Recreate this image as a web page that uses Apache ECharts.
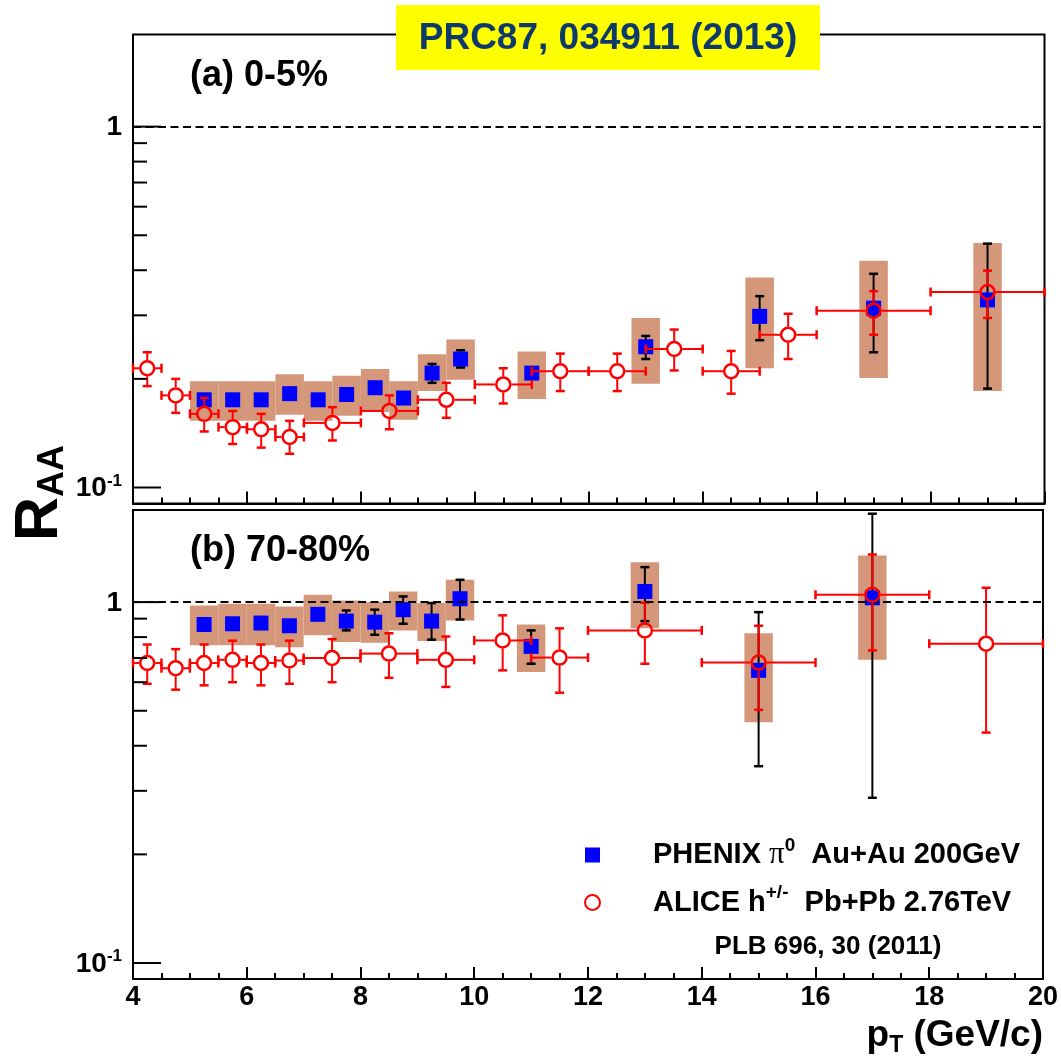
<!DOCTYPE html>
<html><head><meta charset="utf-8">
<script src="https://cdn.jsdelivr.net/npm/echarts@6/dist/echarts.min.js"></script>
<style>html,body{margin:0;padding:0;background:#fff}#c{width:1061px;height:1059px}</style>
</head><body><div id="c"></div>
<script>
// ---------- DATA ----------
// Panel (a) 0-5% : ALICE h+/- Pb+Pb 2.76 TeV
const aliceA_pt  = [4.25, 4.75, 5.25, 5.75, 6.25, 6.75, 7.5, 8.5, 9.5, 10.5, 11.5, 12.5, 13.5, 14.5, 15.5, 17, 19];
const aliceA_dpt = [0.25, 0.25, 0.25, 0.25, 0.25, 0.25, 0.5, 0.5, 0.5, 0.5, 0.5, 0.5, 0.5, 0.5, 0.5, 1, 1];
const aliceA_raa = [0.214, 0.180, 0.160, 0.147, 0.145, 0.138, 0.151, 0.163, 0.175, 0.193, 0.210, 0.210, 0.242, 0.210, 0.265, 0.309, 0.348];
const aliceA_hi  = [0.237, 0.200, 0.177, 0.163, 0.160, 0.153, 0.167, 0.180, 0.195, 0.214, 0.235, 0.235, 0.274, 0.239, 0.303, 0.350, 0.399];
const aliceA_lo  = [0.191, 0.161, 0.143, 0.132, 0.129, 0.124, 0.135, 0.145, 0.156, 0.171, 0.185, 0.185, 0.211, 0.182, 0.227, 0.265, 0.295];

// Panel (a) 0-5% : PHENIX pi0 Au+Au 200 GeV
const phenixA_pt     = [5.25, 5.75, 6.25, 6.75, 7.25, 7.75, 8.25, 8.75, 9.25, 9.75, 11, 13, 15, 17, 19];
const phenixA_raa    = [0.175, 0.175, 0.175, 0.182, 0.175, 0.181, 0.189, 0.177, 0.2075, 0.227, 0.2075, 0.2455, 0.298, 0.314, 0.331];
const phenixA_statHi = [0.180, 0.180, 0.180, 0.187, 0.180, 0.186, 0.195, 0.182, 0.220, 0.240, 0.214, 0.263, 0.339, 0.391, 0.474];
const phenixA_statLo = [0.170, 0.170, 0.170, 0.177, 0.170, 0.176, 0.184, 0.172, 0.195, 0.215, 0.201, 0.227, 0.256, 0.237, 0.188];
const phenixA_sysHi  = [0.197, 0.197, 0.197, 0.206, 0.197, 0.204, 0.213, 0.197, 0.234, 0.257, 0.238, 0.295, 0.382, 0.425, 0.476];
const phenixA_sysLo  = [0.153, 0.153, 0.153, 0.159, 0.153, 0.158, 0.162, 0.154, 0.185, 0.199, 0.176, 0.194, 0.214, 0.201, 0.185];

// Panel (b) 70-80% : ALICE
const aliceB_pt  = [4.25, 4.75, 5.25, 5.75, 6.25, 6.75, 7.5, 8.5, 9.5, 10.5, 11.5, 13, 15, 17, 19];
const aliceB_dpt = [0.25, 0.25, 0.25, 0.25, 0.25, 0.25, 0.5, 0.5, 0.5, 0.5, 0.5, 1, 1, 1, 1];
const aliceB_raa = [0.678, 0.656, 0.678, 0.692, 0.678, 0.689, 0.700, 0.720, 0.692, 0.783, 0.702, 0.835, 0.680, 1.048, 0.767];
const aliceB_hi  = [0.763, 0.741, 0.763, 0.782, 0.763, 0.782, 0.790, 0.820, 0.803, 0.919, 0.846, 0.996, 0.860, 1.355, 1.096];
const aliceB_lo  = [0.594, 0.572, 0.588, 0.600, 0.588, 0.594, 0.600, 0.617, 0.582, 0.647, 0.561, 0.675, 0.503, 0.735, 0.435];

// Panel (b) 70-80% : PHENIX
const phenixB_pt     = [5.25, 5.75, 6.25, 6.75, 7.25, 7.75, 8.25, 8.75, 9.25, 9.75, 11, 13, 15, 17];
const phenixB_raa    = [0.867, 0.871, 0.875, 0.860, 0.925, 0.886, 0.880, 0.953, 0.886, 1.022, 0.754, 1.070, 0.647, 1.028];
const phenixB_statHi = [0.890, 0.890, 0.900, 0.880, 0.950, 0.948, 0.953, 1.037, 0.994, 1.153, 0.835, 1.250, 0.938, 1.758];
const phenixB_statLo = [0.845, 0.850, 0.850, 0.840, 0.900, 0.835, 0.812, 0.871, 0.787, 0.895, 0.675, 0.886, 0.351, 0.287];
const phenixB_sysHi  = [0.979, 0.990, 0.990, 0.973, 1.048, 1.011, 1.000, 1.070, 0.994, 1.153, 0.867, 1.290, 0.820, 1.346];
const phenixB_sysLo  = [0.759, 0.759, 0.759, 0.750, 0.809, 0.775, 0.772, 0.835, 0.780, 0.890, 0.640, 0.847, 0.465, 0.692];

// Axis ticks / labels
const xRange = [4, 20];
const xTickStep = 2;
const yRange = [0.0903, 1.80];
const yMajorTicks = [0.1, 1];
const yMajorLabels = ['{n|10}{e|-1}', '{n|1}'];
const yMinorTicks = [0.2, 0.3, 0.4, 0.5, 0.6, 0.7, 0.8, 0.9];
const refLine = 1;

// Texts
const titleText = 'PRC87, 034911 (2013)';
const panelLabels = ['(a) 0-5%', '(b) 70-80%'];
const seriesNames = ['PHENIX', 'ALICE'];
const legendLabels = ['{pad|}{t|PHENIX }{pi|π}{sup|0}{t|  Au+Au 200GeV}', '{pad|}{t|ALICE h}{sup|+/-}{t|  Pb+Pb 2.76TeV}'];
const refText = 'PLB 696, 30 (2011)';
const yTitle = '{r|R}{s|AA}';
const xTitle = '{m|p}{s|T}{m| (GeV/c)}';

// ---------- RENDER ----------
const FONT = "'Liberation Sans', Arial, Helvetica, sans-serif";
const SYS_HW = 0.25;
const BOX = '#D5977A', BLUE = '#0000FF', RED = '#FF0000';
const chart = echarts.init(document.getElementById('c'), null, {renderer: 'canvas'});

function seg(x1, y1, x2, y2, color, w) {
  return {type: 'line', shape: {x1, y1, x2, y2}, style: {stroke: color, lineWidth: w}};
}

function sysSeries(gi, pt, lo, hi) {
  return {
    type: 'custom', xAxisIndex: gi, yAxisIndex: gi, z: 1, silent: true,
    data: pt.map((x, i) => [x, lo[i], hi[i]]),
    encode: {x: 0, y: [1, 2]},
    renderItem(params, api) {
      const x = api.value(0), l = api.value(1), h = api.value(2);
      const a = api.coord([x - SYS_HW, h]), b = api.coord([x + SYS_HW, l]);
      return {type: 'rect', shape: {x: a[0], y: a[1], width: b[0] - a[0], height: b[1] - a[1]}, style: {fill: BOX}};
    }
  };
}

function statSeries(gi, pt, lo, hi) {
  return {
    type: 'custom', xAxisIndex: gi, yAxisIndex: gi, z: 2, silent: true,
    data: pt.map((x, i) => [x, lo[i], hi[i]]),
    encode: {x: 0, y: [1, 2]},
    renderItem(params, api) {
      const x = api.value(0);
      const t = api.coord([x, api.value(2)]), b = api.coord([x, api.value(1)]);
      return {type: 'group', children: [
        seg(t[0], t[1], b[0], b[1], '#000', 2),
        seg(t[0] - 4.5, t[1], t[0] + 4.5, t[1], '#000', 2.5),
        seg(b[0] - 4.5, b[1], b[0] + 4.5, b[1], '#000', 2.5)
      ]};
    }
  };
}

function aliceErrSeries(gi, pt, dpt, raa, lo, hi) {
  return {
    type: 'custom', xAxisIndex: gi, yAxisIndex: gi, z: 4, silent: true,
    data: pt.map((x, i) => [x, raa[i], dpt[i], lo[i], hi[i]]),
    encode: {x: 0, y: 1},
    renderItem(params, api) {
      const x = api.value(0), y = api.value(1), dx = api.value(2);
      const c = api.coord([x, y]);
      const t = api.coord([x, api.value(4)]), b = api.coord([x, api.value(3)]);
      const l = api.coord([x - dx, y]), r = api.coord([x + dx, y]);
      const R = 8, C = 4.5, w = 2;
      const ch = [];
      if (c[1] - R > t[1]) ch.push(seg(c[0], t[1], c[0], c[1] - R, RED, w));
      if (b[1] > c[1] + R) ch.push(seg(c[0], c[1] + R, c[0], b[1], RED, w));
      if (c[0] - R > l[0]) ch.push(seg(l[0], c[1], c[0] - R, c[1], RED, w));
      if (r[0] > c[0] + R) ch.push(seg(c[0] + R, c[1], r[0], c[1], RED, w));
      ch.push(seg(c[0] - C, t[1], c[0] + C, t[1], RED, 2.5));
      ch.push(seg(c[0] - C, b[1], c[0] + C, b[1], RED, 2.5));
      ch.push(seg(l[0], c[1] - C, l[0], c[1] + C, RED, 2.5));
      ch.push(seg(r[0], c[1] - C, r[0], c[1] + C, RED, 2.5));
      return {type: 'group', children: ch};
    }
  };
}

function phenixSeries(gi, pt, raa) {
  return {
    name: seriesNames[0], type: 'scatter', xAxisIndex: gi, yAxisIndex: gi, z: 3, silent: true,
    symbol: 'rect', symbolSize: 15, itemStyle: {color: BLUE, opacity: 1},
    data: pt.map((x, i) => [x, raa[i]])
  };
}

function aliceSeries(gi, pt, raa) {
  return {
    name: seriesNames[1], type: 'scatter', xAxisIndex: gi, yAxisIndex: gi, z: 5, silent: true,
    symbol: 'circle', symbolSize: 14,
    itemStyle: {color: 'rgba(255,255,255,0)', borderColor: RED, borderWidth: 2.5, opacity: 1},
    data: pt.map((x, i) => [x, raa[i]]),
    markLine: {
      silent: true, symbol: 'none', animation: false, label: {show: false},
      lineStyle: {color: '#000', width: 2, type: [8, 4.5]},
      data: [{yAxis: refLine}]
    }
  };
}

function yTickSeries(gi) {
  const data = yMajorTicks.map((v, i) => [xRange[0], v, 1, i])
    .concat(yMinorTicks.map(v => [xRange[0], v, 0, -1]));
  return {
    type: 'custom', xAxisIndex: gi, yAxisIndex: gi, z: 6, silent: true, clip: false,
    data: data, encode: {x: 0, y: 1},
    renderItem(params, api) {
      const v = api.value(1), major = api.value(2) === 1;
      const p = api.coord([xRange[0], v]);
      const ch = [seg(p[0], p[1], p[0] + (major ? 28 : 14), p[1], '#000', 2)];
      if (major) {
        ch.push({type: 'text', x: p[0] - 11, y: p[1] + 1, style: {
          text: yMajorLabels[api.value(3)], align: 'right', verticalAlign: 'middle',
          rich: {
            n: {fontSize: 28, fontWeight: 'bold', fontFamily: FONT, fill: '#000', lineHeight: 32},
            e: {fontSize: 17, fontWeight: 'bold', fontFamily: FONT, fill: '#000', lineHeight: 10, verticalAlign: 'top'}
          }
        }});
      }
      return {type: 'group', children: ch};
    }
  };
}

const grids = [
  {left: 133, top: 34.5, width: 911.5, height: 469},
  {left: 133, top: 510, width: 911.5, height: 469}
].map(g => Object.assign(g, {show: true, borderColor: '#000', borderWidth: 2, backgroundColor: 'transparent', containLabel: false}));

const xAxes = [0, 1].map(i => ({
  type: 'value', gridIndex: i, min: xRange[0], max: xRange[1], interval: xTickStep,
  axisLine: {show: true, lineStyle: {color: '#000', width: 2}},
  axisTick: {show: true, inside: true, length: 12, lineStyle: {color: '#000', width: 2}},
  minorTick: {show: true, splitNumber: 4, length: 6, lineStyle: {color: '#000', width: 2}},
  splitLine: {show: false},
  axisLabel: {show: i === 1, fontSize: 27, fontWeight: 'bold', color: '#000', fontFamily: FONT, margin: 5}
}));

const yAxes = [0, 1].map(i => ({
  type: 'log', logBase: 10, gridIndex: i, min: yRange[0], max: yRange[1],
  axisLine: {show: false}, axisTick: {show: false}, axisLabel: {show: false},
  splitLine: {show: false}, minorTick: {show: false}, minorSplitLine: {show: false}
}));

const legendRich = {
  pad: {width: 48},
  t: {fontSize: 29, fontWeight: 'bold', fontFamily: FONT, color: '#000', lineHeight: 38},
  pi: {fontSize: 31, fontFamily: "'Liberation Serif', 'DejaVu Serif', serif", color: '#000', lineHeight: 38},
  sup: {fontSize: 19, fontWeight: 'bold', fontFamily: FONT, color: '#000', lineHeight: 12, verticalAlign: 'top'}
};

const option = {
  animation: false,
  backgroundColor: '#fff',
  grid: grids,
  xAxis: xAxes,
  yAxis: yAxes,
  legend: {
    orient: 'vertical', left: 579, top: 831, itemWidth: 15, itemHeight: 15, itemGap: 13,
    selectedMode: false,
    data: [{name: seriesNames[0], icon: 'rect'}, {name: seriesNames[1], icon: 'circle'}],
    formatter: name => legendLabels[seriesNames.indexOf(name)],
    textStyle: {rich: legendRich}
  },
  graphic: [
    {type: 'rect', z: 100, shape: {x: 396, y: 5, width: 424, height: 65}, style: {fill: '#FFFF00'}},
    {type: 'text', z: 101, x: 608, y: 39, style: {text: titleText, align: 'center', verticalAlign: 'middle',
      fontSize: 37, fontWeight: 'bold', fontFamily: FONT, fill: '#0D3A6B'}},
    {type: 'text', z: 101, x: 190, y: 76, style: {text: panelLabels[0], align: 'left', verticalAlign: 'middle',
      fontSize: 36, fontWeight: 'bold', fontFamily: FONT, fill: '#000'}},
    {type: 'text', z: 101, x: 190, y: 551, style: {text: panelLabels[1], align: 'left', verticalAlign: 'middle',
      fontSize: 36, fontWeight: 'bold', fontFamily: FONT, fill: '#000'}},
    {type: 'text', z: 101, x: 828, y: 947, style: {text: refText, align: 'center', verticalAlign: 'middle',
      fontSize: 26, fontWeight: 'bold', fontFamily: FONT, fill: '#000'}},
    {type: 'text', z: 101, x: 40, y: 493, rotation: Math.PI / 2, style: {text: yTitle, align: 'center', verticalAlign: 'middle',
      rich: {
        r: {fontSize: 61, fontWeight: 'bold', fontFamily: FONT, fill: '#000', lineHeight: 62},
        s: {fontSize: 36, fontWeight: 'bold', fontFamily: FONT, fill: '#000', lineHeight: 20, verticalAlign: 'bottom'}
      }}},
    {type: 'text', z: 101, x: 1043, y: 1036, style: {text: xTitle, align: 'right', verticalAlign: 'middle',
      rich: {
        m: {fontSize: 37, fontWeight: 'bold', fontFamily: FONT, fill: '#000', lineHeight: 42},
        s: {fontSize: 23, fontWeight: 'bold', fontFamily: FONT, fill: '#000', lineHeight: 10, verticalAlign: 'bottom'}
      }}}
  ],
  series: [
    sysSeries(0, phenixA_pt, phenixA_sysLo, phenixA_sysHi),
    statSeries(0, phenixA_pt, phenixA_statLo, phenixA_statHi),
    phenixSeries(0, phenixA_pt, phenixA_raa),
    aliceErrSeries(0, aliceA_pt, aliceA_dpt, aliceA_raa, aliceA_lo, aliceA_hi),
    aliceSeries(0, aliceA_pt, aliceA_raa),
    yTickSeries(0),
    sysSeries(1, phenixB_pt, phenixB_sysLo, phenixB_sysHi),
    statSeries(1, phenixB_pt, phenixB_statLo, phenixB_statHi),
    phenixSeries(1, phenixB_pt, phenixB_raa),
    aliceErrSeries(1, aliceB_pt, aliceB_dpt, aliceB_raa, aliceB_lo, aliceB_hi),
    aliceSeries(1, aliceB_pt, aliceB_raa),
    yTickSeries(1)
  ]
};
chart.setOption(option);
</script></body></html>
